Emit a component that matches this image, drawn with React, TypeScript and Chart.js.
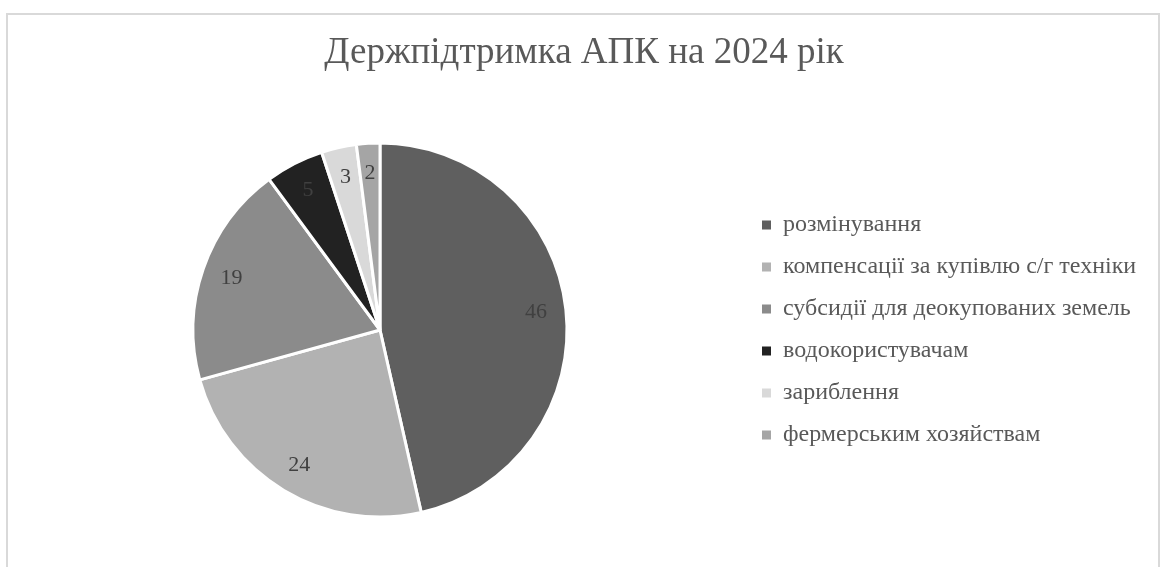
import React, { useEffect, useRef } from 'react';
import { Chart, registerables } from 'chart.js';

Chart.register(...registerables);

const titleText = 'Держпідтримка АПК на 2024 рік';
const categories = [
  'розмінування',
  'компенсації за купівлю с/г техніки',
  'субсидії для деокупованих земель',
  'водокористувачам',
  'зариблення',
  'фермерським хозяйствам',
];
const values = [46, 24, 19, 5, 3, 2];
const sliceColors = ['#5f5f5f', '#b2b2b2', '#8b8b8b', '#222222', '#d9d9d9', '#a5a5a5'];

const W = 1163;
const H = 567;
const SERIF = '"Liberation Serif", "Times New Roman", serif';
const LEGEND_W = 408;

const framePlugin = {
  id: 'frame',
  beforeDraw(chart: any) {
    const ctx = chart.ctx;
    ctx.save();
    ctx.fillStyle = '#ffffff';
    ctx.fillRect(0, 0, chart.width, chart.height);
    ctx.strokeStyle = '#d9d9d9';
    ctx.lineWidth = 2;
    ctx.strokeRect(7, 14, 1152, 700);
    ctx.restore();
  },
};

const legendWidthPlugin = {
  id: 'legendWidth',
  afterInit(chart: any) {
    const lg = chart.legend;
    if (!lg) return;
    const orig = lg.fit.bind(lg);
    lg.fit = () => {
      orig();
      lg.width = LEGEND_W;
    };
  },
};

const sliceLabelPlugin = {
  id: 'sliceLabels',
  afterDatasetsDraw(chart: any) {
    const ctx = chart.ctx;
    const meta = chart.getDatasetMeta(0);
    const data = chart.data.datasets[0].data;
    ctx.save();
    ctx.font = `22px ${SERIF}`;
    ctx.fillStyle = '#404040';
    ctx.textAlign = 'center';
    ctx.textBaseline = 'middle';
    meta.data.forEach((arc: any, i: number) => {
      const p = arc.getProps(['x', 'y', 'startAngle', 'endAngle', 'outerRadius'], true);
      const mid = (p.startAngle + p.endAngle) / 2;
      const r = p.outerRadius * 0.84;
      ctx.fillText(String(data[i]), p.x + Math.cos(mid) * r, p.y + Math.sin(mid) * r);
    });
    ctx.restore();
  },
};

export default function App() {
  const canvasRef = useRef<HTMLCanvasElement | null>(null);

  useEffect(() => {
    document.body.style.margin = '0';
    const canvas = canvasRef.current;
    if (!canvas) return;
    const chart = new Chart(canvas, {
      type: 'pie',
      data: {
        labels: categories,
        datasets: [
          {
            data: values,
            backgroundColor: sliceColors,
            borderColor: '#ffffff',
            borderWidth: 3,
            hoverOffset: 0,
          },
        ],
      },
      options: {
        responsive: false,
        animation: false,
        radius: 187,
        layout: { padding: { left: 16, right: 11, top: 0, bottom: 48.6 } },
        plugins: {
          title: {
            display: true,
            text: titleText,
            color: '#595959',
            font: { family: SERIF, size: 37, weight: 'normal' },
            padding: { top: 31.5, bottom: 65.7 },
          },
          legend: {
            position: 'right',
            fullSize: false,
            labels: {
              boxWidth: 9,
              boxHeight: 9,
              padding: 18,
              color: '#595959',
              font: { family: SERIF, size: 24 },
              generateLabels: (ch: any) =>
                ch.data.labels.map((t: string, i: number) => ({
                  text: t,
                  fillStyle: sliceColors[i],
                  strokeStyle: sliceColors[i],
                  lineWidth: 0,
                  fontColor: '#595959',
                  hidden: false,
                  index: i,
                })),
            },
          },
          tooltip: { enabled: false },
        },
      },
      plugins: [framePlugin, legendWidthPlugin, sliceLabelPlugin],
    } as any);
    return () => chart.destroy();
  }, []);

  return (
    <div style={{ position: 'absolute', left: 0, top: 0, width: W, height: H, overflow: 'hidden' }}>
      <canvas ref={canvasRef} width={W} height={H} style={{ display: 'block' }} />
    </div>
  );
}
